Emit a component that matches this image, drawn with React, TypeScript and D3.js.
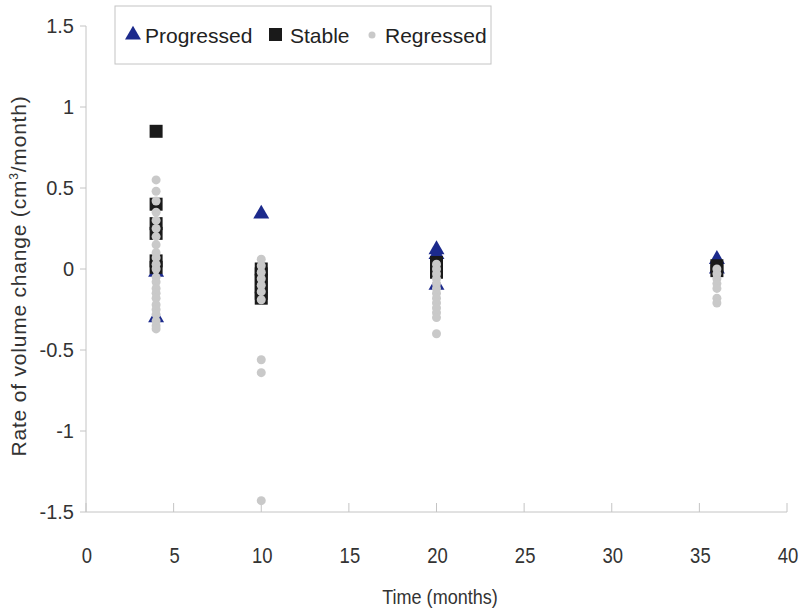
import { useMemo } from 'react';
import * as d3 from 'd3';

// [time (months), rate of volume change]
const progressed: [number, number][] = [
  [4, -0.02], [4, -0.30],
  [10, 0.34],
  [20, 0.12], [20, 0.09], [20, -0.10],
  [36, 0.06], [36, 0.0],
];

const stable: [number, number][] = [
  [4, 0.85], [4, 0.40], [4, 0.28], [4, 0.22], [4, 0.05], [4, 0.01],
  [10, 0.0], [10, -0.03], [10, -0.07], [10, -0.11], [10, -0.15], [10, -0.18],
  [20, 0.04], [20, 0.01], [20, -0.02],
  [36, 0.02], [36, -0.01],
];

const regressed: [number, number][] = [
  [4, 0.55], [4, 0.48], [4, 0.42], [4, 0.35], [4, 0.30], [4, 0.25], [4, 0.20],
  [4, 0.15], [4, 0.10], [4, 0.07], [4, 0.03], [4, 0.0], [4, -0.05], [4, -0.08],
  [4, -0.12], [4, -0.15], [4, -0.18], [4, -0.22], [4, -0.25], [4, -0.28],
  [4, -0.32], [4, -0.35], [4, -0.37],
  [10, 0.06], [10, 0.02], [10, -0.02], [10, -0.06], [10, -0.10], [10, -0.14],
  [10, -0.19], [10, -0.56], [10, -0.64], [10, -1.43],
  [20, 0.03], [20, 0.0], [20, -0.03], [20, -0.06], [20, -0.09], [20, -0.12],
  [20, -0.15], [20, -0.18], [20, -0.21], [20, -0.24], [20, -0.27], [20, -0.30],
  [20, -0.40],
  [36, 0.0], [36, -0.03], [36, -0.06], [36, -0.09], [36, -0.12], [36, -0.18],
  [36, -0.21],
];

const xTicks = [0, 5, 10, 15, 20, 25, 30, 35, 40];
const yTicks = [-1.5, -1, -0.5, 0, 0.5, 1, 1.5];

const width = 800;
const height = 611;
const axisColor = '#c4c4c4';
const font = '"Liberation Sans", Arial, sans-serif';

const triColor = '#1c2a8c';
const sqColor = '#1a1a1a';
const dotColor = '#c9c9c9';

const App = () => {
  const x = useMemo(() => d3.scaleLinear().domain([0, 40]).range([86, 787]), []);
  const y = useMemo(() => d3.scaleLinear().domain([-1.5, 1.5]).range([512, 26]), []);

  const tri = d3.symbol().type(d3.symbolTriangle).size(110)();

  return (
    <div style={{ position: 'absolute', left: 0, top: 0 }}>
      <svg width={width} height={height} style={{ display: 'block', background: '#fff' }}>
        {/* legend */}
        <rect x={115} y={6} width={376} height={58} fill="none" stroke={axisColor} strokeWidth={1} />
        <path d={tri} transform="translate(133,35)" fill={triColor} />
        <text x={145} y={43} fontFamily={font} fontSize={21} fill="#222">Progressed</text>
        <rect x={269} y={28} width={13} height={13} fill={sqColor} />
        <text x={290} y={43} fontFamily={font} fontSize={21} fill="#222">Stable</text>
        <circle cx={372} cy={35} r={3.5} fill={dotColor} />
        <text x={385} y={43} fontFamily={font} fontSize={21} fill="#222">Regressed</text>

        {/* axes */}
        <line x1={86} x2={86} y1={y(1.5)} y2={y(-1.5)} stroke={axisColor} />
        <line x1={86} x2={x(40)} y1={512} y2={512} stroke={axisColor} />
        {yTicks.map((t) => (
          <g key={t}>
            <line x1={80} x2={86} y1={y(t)} y2={y(t)} stroke={axisColor} />
            <text x={74} y={y(t) + 7} textAnchor="end" fontFamily={font} fontSize={20} fill="#333">
              {t}
            </text>
          </g>
        ))}
        {xTicks.map((t) => (
          <g key={t}>
            <line x1={x(t)} x2={x(t)} y1={503} y2={512} stroke={axisColor} />
            <text
              transform={`translate(${x(t) + 1},563) scale(0.84,1)`}
              textAnchor="middle"
              fontFamily={font}
              fontSize={22}
              fill="#333"
            >
              {t}
            </text>
          </g>
        ))}
        <text
          transform="translate(440,604) scale(0.86,1)"
          textAnchor="middle"
          fontFamily={font}
          fontSize={21}
          fill="#333"
        >
          Time (months)
        </text>
        <text
          transform="translate(26,276) rotate(-90)"
          textAnchor="middle"
          fontFamily={font}
          fontSize={21}
          letterSpacing={0.8}
          fill="#333"
        >
          Rate of volume change (cm<tspan dy={-8} fontSize={12}>3</tspan>
          <tspan dy={8}>/month)</tspan>
        </text>

        {/* marks */}
        {progressed.map((d, i) => (
          <path key={`p${i}`} d={tri} transform={`translate(${x(d[0])},${y(d[1])})`} fill={triColor} />
        ))}
        {stable.map((d, i) => (
          <rect key={`s${i}`} x={x(d[0]) - 6.5} y={y(d[1]) - 6.5} width={13} height={13} fill={sqColor} />
        ))}
        {regressed.map((d, i) => (
          <circle key={`r${i}`} cx={x(d[0])} cy={y(d[1])} r={4.5} fill={dotColor} />
        ))}
      </svg>
    </div>
  );
};

export default App;
